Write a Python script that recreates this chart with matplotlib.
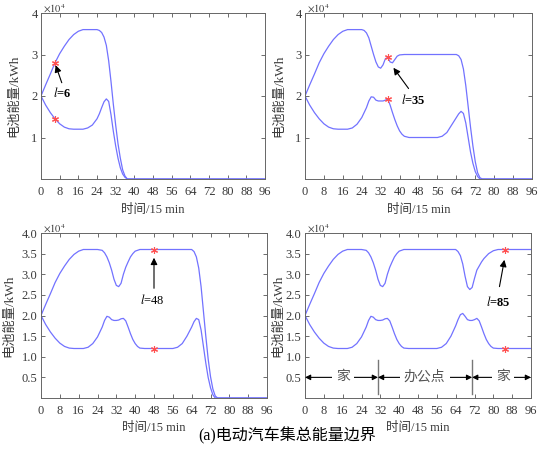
"""
EV aggregate energy boundary, four cases l=6,35,48,85
"""
import matplotlib
matplotlib.use("Agg")
import matplotlib.pyplot as plt

plt.rcParams['font.family'] = ['Liberation Serif', 'Noto Sans CJK SC', 'DejaVu Sans']
plt.rcParams['mathtext.fontset'] = 'stix'

# energy values in units of 1e4 kWh, time in 15-min steps
rise_x = [0, 2, 4, 6, 8, 10, 12, 14, 16, 18]
rise_y = [2.0, 2.27, 2.53, 2.8, 3.02, 3.2, 3.36, 3.48, 3.56, 3.6]
fall_x = [0, 2, 4, 6, 8, 10, 12, 14]
fall_y = [2.0, 1.78, 1.6, 1.45, 1.33, 1.25, 1.21, 1.2]

# panel l=6
up1_x = rise_x + [24, 25, 26, 27, 28, 29, 30, 31, 32, 33, 34, 35, 36, 37, 96]
up1_y = rise_y + [3.6, 3.58, 3.53, 3.42, 3.22, 2.85, 2.35, 1.8, 1.3, 0.85, 0.5, 0.22, 0.07, 0.0, 0.0]
lo1_x = fall_x + [18, 20, 22, 24, 25, 26, 27, 28, 29, 30, 31, 32, 33, 34, 35, 36, 37, 96]
lo1_y = fall_y + [1.2, 1.23, 1.3, 1.45, 1.57, 1.72, 1.86, 1.93, 1.87, 1.55, 1.15, 0.8, 0.5, 0.27, 0.12, 0.04, 0.0, 0.0]

# panel l=35
up2_x = rise_x + [24, 25, 26, 27, 28, 29, 30, 31, 32, 33, 34, 35, 36, 37, 38, 39, 40, 42,
                  64, 65, 66, 67, 68, 69, 70, 71, 72, 73, 74, 75, 96]
up2_y = rise_y + [3.6, 3.58, 3.52, 3.4, 3.2, 3.0, 2.82, 2.7, 2.67, 2.75, 2.9, 2.93, 2.82, 2.8, 2.88, 2.96, 2.99, 3.0,
                  3.0, 2.97, 2.88, 2.65, 2.25, 1.75, 1.25, 0.8, 0.42, 0.15, 0.03, 0.0, 0.0]
lo2_x = fall_x + [18, 20, 22, 24, 26, 27, 28, 29, 30, 31, 32, 33, 34, 35, 36, 37, 38, 39, 40, 41, 42, 44,
                  56, 58, 60, 62, 64, 65, 66, 67, 68, 69, 70, 71, 72, 73, 74, 96]
lo2_y = fall_y + [1.2, 1.23, 1.32, 1.48, 1.72, 1.88, 1.98, 1.97, 1.9, 1.88, 1.88, 1.88, 1.9, 1.93, 1.78, 1.6, 1.43, 1.28, 1.16, 1.08, 1.03, 1.0,
                  1.0, 1.03, 1.12, 1.3, 1.48, 1.57, 1.63, 1.58, 1.35, 1.0, 0.65, 0.38, 0.18, 0.06, 0.0, 0.0]

# panel l=48
up3_x = rise_x + [24, 26, 27, 28, 29, 30, 31, 32, 33, 34, 35, 36, 37, 38, 39, 40, 42,
                  64, 65, 66, 67, 68, 69, 70, 71, 72, 73, 74, 75, 96]
up3_y = rise_y + [3.6, 3.58, 3.52, 3.42, 3.28, 3.1, 2.88, 2.73, 2.7, 2.78, 3.0, 3.17, 3.3, 3.42, 3.5, 3.56, 3.6,
                  3.6, 3.55, 3.42, 3.15, 2.7, 2.1, 1.5, 0.95, 0.52, 0.22, 0.05, 0.0, 0.0]
lo3_x = fall_x + [18, 20, 22, 24, 26, 27, 28, 29, 30, 31, 32, 33, 34, 35, 36, 37, 38, 39, 40, 41, 42, 44,
                  56, 58, 60, 62, 64, 65, 66, 67, 68, 69, 70, 71, 72, 73, 74, 96]
lo3_y = fall_y + [1.2, 1.23, 1.32, 1.48, 1.72, 1.88, 1.98, 1.96, 1.9, 1.88, 1.88, 1.89, 1.92, 1.93, 1.87, 1.72, 1.56, 1.42, 1.32, 1.25, 1.21, 1.2,
                  1.2, 1.23, 1.32, 1.5, 1.72, 1.85, 1.93, 1.9, 1.65, 1.25, 0.85, 0.5, 0.25, 0.08, 0.0, 0.0]

# panel l=85
up4_x = rise_x + [24, 26, 27, 28, 29, 30, 31, 32, 33, 34, 35, 36, 37, 38, 39, 40, 42,
                  64, 65, 66, 67, 68, 69, 70, 71, 72, 73, 74, 75, 76, 78, 80, 82, 96]
up4_y = rise_y + [3.6, 3.58, 3.52, 3.42, 3.28, 3.1, 2.88, 2.73, 2.7, 2.78, 3.0, 3.17, 3.3, 3.42, 3.5, 3.56, 3.6,
                  3.6, 3.55, 3.45, 3.25, 2.95, 2.7, 2.63, 2.68, 2.9, 3.1, 3.2, 3.3, 3.38, 3.5, 3.57, 3.6, 3.6]
lo4_x = fall_x + [18, 20, 22, 24, 26, 27, 28, 29, 30, 31, 32, 33, 34, 35, 36, 37, 38, 39, 40, 41, 42, 44,
                  56, 58, 60, 62, 64, 65, 66, 67, 68, 69, 70, 71, 72, 73, 74, 75, 76, 77, 78, 79, 80, 82, 96]
lo4_y = fall_y + [1.2, 1.23, 1.32, 1.48, 1.72, 1.88, 1.98, 1.96, 1.9, 1.88, 1.88, 1.89, 1.92, 1.93, 1.87, 1.72, 1.56, 1.42, 1.32, 1.25, 1.21, 1.2,
                  1.2, 1.23, 1.32, 1.5, 1.75, 1.9, 2.02, 2.05, 1.98, 1.9, 1.88, 1.88, 1.9, 1.93, 1.87, 1.72, 1.56, 1.42, 1.32, 1.25, 1.21, 1.2, 1.2]

star_l = [6, 35, 48, 85]
star_up = [2.8, 2.93, 3.6, 3.6]
star_lo = [1.45, 1.93, 1.2, 1.2]
labels = ["6", "35", "48", "85"]
label_pos = [(9.2, 2.08), (45.6, 1.9), (47.4, 2.38), (82, 2.33)]
arrow_tail = [(8.9, 2.32), (43.8, 2.18), (48, 2.66), (82.6, 2.7)]
arrow_head = [(6.3, 2.74), (37.4, 2.68), (48, 3.4), (84.7, 3.35)]

segments = [0, 31, 71, 96]
seg_names = ["家", "办公点", "家"]
seg_text_x = [16.3, 50.8, 84]

ups = [(up1_x, up1_y), (up2_x, up2_y), (up3_x, up3_y), (up4_x, up4_y)]
los = [(lo1_x, lo1_y), (lo2_x, lo2_y), (lo3_x, lo3_y), (lo4_x, lo4_y)]

W, H = 545, 449
boxes = [(41, 13, 265, 179), (305, 13, 532, 179), (41, 233, 267, 398), (305, 233, 531, 398)]
ylab_x = [-0.094, -0.088, -0.115, -0.093]
tc = '#3a3a3a'
fig = plt.figure(figsize=(W / 100, H / 100), dpi=100)
for i in range(4):
    l, t, r, b = boxes[i]
    ax = fig.add_axes([l / W, (H - b) / H, (r - l) / W, (b - t) / H])
    ax.plot(ups[i][0], ups[i][1], color='#7272ff', lw=0.9)
    ax.plot(los[i][0], los[i][1], color='#7272ff', lw=0.9)
    ax.plot([star_l[i], star_l[i]], [star_up[i], star_lo[i]], ls='none', marker=(6, 2, 0),
            ms=5, color='#ff5050', mew=0.8)
    ax.set_xlim(0, 96)
    ax.set_ylim(0, 4)
    ax.set_xticks(range(0, 97, 8))
    if i < 2:
        ax.set_yticks([1, 2, 3, 4])
        ax.set_yticklabels(['1', '2', '3', '4'])
    else:
        ax.set_yticks([0.5, 1, 1.5, 2, 2.5, 3, 3.5, 4])
        ax.set_yticklabels(['%.1f' % v for v in [0.5, 1, 1.5, 2, 2.5, 3, 3.5, 4]])
    ax.tick_params(direction='in', top=True, right=True, length=3, width=0.6,
                   labelsize=9, colors='#555555', labelcolor=tc)
    ax.tick_params(axis='x', pad=5)
    ax.tick_params(axis='y', pad=2.5)
    for s in ax.spines.values():
        s.set_color('#666666')
        s.set_linewidth(0.7)
    ax.set_xlabel("时间/15 min", fontsize=9, color=tc, labelpad=4)
    ax.set_ylabel("电池能量/kWh", fontsize=9.5, color=tc)
    ax.yaxis.set_label_coords(ylab_x[i], 0.5)
    ax.text(0.01, 1.004, r'$\times10^4$', transform=ax.transAxes, ha='left', va='baseline',
            fontsize=7.5, color=tc)
    wt = 'normal' if i == 2 else 'bold'
    ax.text(label_pos[i][0], label_pos[i][1], r'$\mathit{l}$=' + labels[i], ha='center', va='center',
            fontsize=9, weight=wt, color='black')
    ax.annotate('', xy=arrow_head[i], xytext=arrow_tail[i],
                arrowprops=dict(arrowstyle='-|>', color='black', lw=0.8, mutation_scale=10,
                                shrinkA=0, shrinkB=0))
    if i == 3:
        for sx in segments[1:3]:
            ax.plot([sx, sx], [0.1, 0.92], color='#777777', lw=1.0)
        for k in range(3):
            ax.annotate('', xy=(segments[k], 0.5), xytext=(segments[k + 1], 0.5),
                        arrowprops=dict(arrowstyle='<|-|>', color='black', lw=0.8,
                                        mutation_scale=8, shrinkA=0, shrinkB=0))
            ax.text(seg_text_x[k], 0.52, seg_names[k], ha='center', va='center', fontsize=10,
                    color='#555555', bbox=dict(fc='white', ec='none', pad=3))

fig.text(287 / W, (H - 436) / H, "(a)电动汽车集总能量边界", ha='center', va='center',
         fontsize=11.5, color='black')
fig.savefig("out.png", dpi=100)
